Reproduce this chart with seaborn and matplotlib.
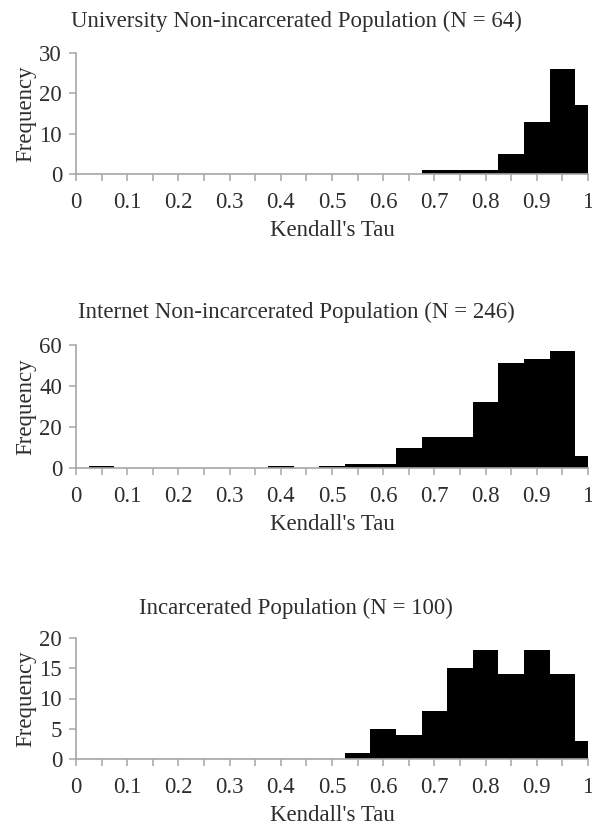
import numpy as np
import pandas as pd
import matplotlib
matplotlib.use("Agg")
import matplotlib.pyplot as plt
from matplotlib.ticker import FixedLocator
import seaborn as sns

# ---- data (bin centres of width 0.05, counts) ----
univ_centers = [0.70, 0.75, 0.80, 0.85, 0.90, 0.95, 1.00]
univ_counts = [1, 1, 1, 5, 13, 26, 17]

internet_centers = [0.05, 0.40, 0.50, 0.55, 0.60, 0.65, 0.70, 0.75, 0.80, 0.85, 0.90, 0.95, 1.00]
internet_counts = [1, 1, 1, 2, 2, 10, 15, 15, 32, 51, 53, 57, 6]

incarc_centers = [0.55, 0.60, 0.65, 0.70, 0.75, 0.80, 0.85, 0.90, 0.95, 1.00]
incarc_counts = [1, 5, 4, 8, 15, 18, 14, 18, 14, 3]

titles = ["University Non-incarcerated Population (N = 64)",
          "Internet Non-incarcerated Population (N = 246)",
          "Incarcerated Population (N = 100)"]
x_tick_labels = ["0", "0.1", "0.2", "0.3", "0.4", "0.5", "0.6", "0.7", "0.8", "0.9", "1"]
y_ticks = [[0, 10, 20, 30], [0, 20, 40, 60], [0, 5, 10, 15, 20]]
x_label = "Kendall's Tau"
y_label = "Frequency"

sns.set_style("white")
plt.rcParams['font.family'] = ['Liberation Serif', 'DejaVu Serif']

TEXT = "#2e2e2e"
AXC = "#a6a6a6"
FS = 16.5

W, H = 592, 827
fig = plt.figure(figsize=(W / 100, H / 100), dpi=100)

# axes boxes in pixels: (top, bottom)
boxes = [(53, 174), (345, 468), (638, 759)]
title_base = [27, 318, 614]
left_px, right_px = 76, 588

series = [(univ_centers, univ_counts), (internet_centers, internet_counts),
          (incarc_centers, incarc_counts)]

for i, ((c, n), (top, bot)) in enumerate(zip(series, boxes)):
    ax = fig.add_axes([left_px / W, 1 - bot / H, (right_px - left_px) / W, (bot - top) / H])
    df = pd.DataFrame({"tau": c, "count": n})
    sns.histplot(data=df, x="tau", weights="count", binwidth=0.05,
                 binrange=(-0.025, 1.025), ax=ax,
                 color="black", alpha=1, linewidth=0, edgecolor="black")
    ax.set_xlim(0, 1)
    ax.set_ylim(0, y_ticks[i][-1])
    ax.set_yticks(y_ticks[i])
    ax.set_xticks(np.linspace(0, 1, 11))
    ax.set_xticklabels(x_tick_labels)
    ax.xaxis.set_minor_locator(FixedLocator(np.arange(0.05, 1.0, 0.1)))
    for s in ["top", "right"]:
        ax.spines[s].set_visible(False)
    for s in ["left", "bottom"]:
        ax.spines[s].set_color(AXC)
        ax.spines[s].set_linewidth(1.2)
    ax.tick_params(axis="x", which="both", direction="out", length=5, width=1.1,
                   color=AXC, labelcolor=TEXT, labelsize=FS, pad=8, bottom=True)
    ax.tick_params(axis="y", which="both", direction="out", length=5, width=1.1,
                   color=AXC, labelcolor=TEXT, labelsize=FS, pad=5, left=True)
    ax.set_xlabel(x_label, fontsize=FS, color=TEXT, labelpad=5)
    ax.set_ylabel(y_label, fontsize=FS, color=TEXT, labelpad=2)
    ax.set_facecolor("white")
    ax.grid(False)
    fig.text(0.5, 1 - title_base[i] / H, titles[i], ha="center", va="baseline",
             fontsize=FS, color=TEXT)

fig.savefig("out.png", dpi=100, facecolor="white")
